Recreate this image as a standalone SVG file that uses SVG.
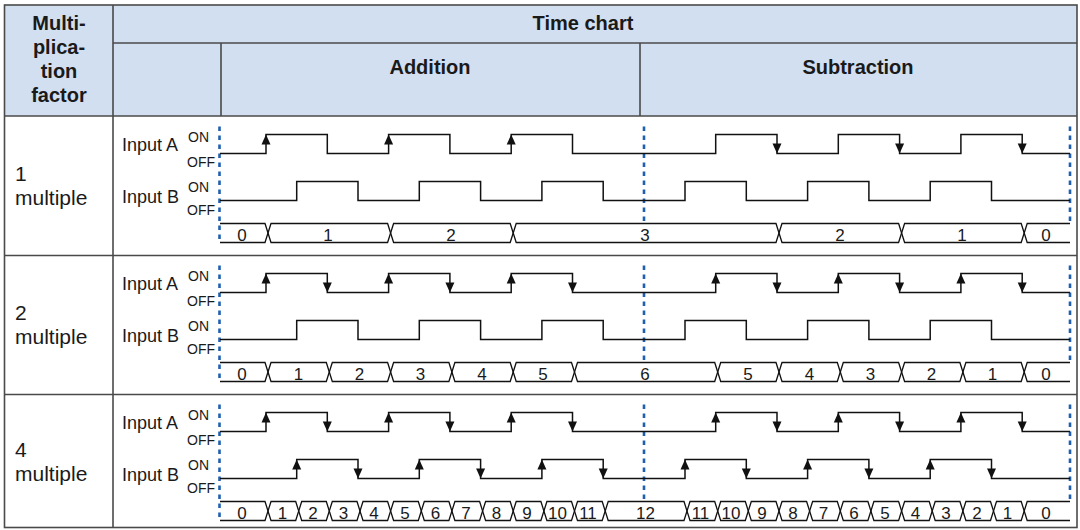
<svg xmlns="http://www.w3.org/2000/svg" xmlns:xlink="http://www.w3.org/1999/xlink" width="1080" height="530" viewBox="0 0 1080 530">
<style>
text{font-family:"Liberation Sans",Arial,sans-serif;fill:#1a1a1a}
.hb{font-weight:bold;font-size:20px;text-anchor:middle}
.lc{font-size:21px}
.inp{font-size:18px}
.oo{font-size:14px}
.cnt{font-size:17px;text-anchor:middle}
.grid{stroke:#4a4a4a;stroke-width:1.6;fill:none}
.wave{stroke:#111;stroke-width:1.5;fill:none}
.bus{stroke:#111;stroke-width:1.3;fill:none}
.dot{stroke:#1f5fae;stroke-width:2.6;stroke-dasharray:4.6 4.4;fill:none}
.arr{fill:#111}
</style>
<defs>
<path id="au" class="arr" d="M0,0 L4.5,10 L-4.5,10 Z"/>
<path id="ad" class="arr" d="M0,0 L4.5,-10 L-4.5,-10 Z"/>
<path id="wA" class="wave" d="M220,153.5 H266 V134.5 H327.3 V153.5 H388.6 V134.5 H449.9 V153.5 H511.2 V134.5 H572.5 V153.5 H715.7 V134.5 H777 V153.5 H838.3 V134.5 H899.6 V153.5 H960.9 V134.5 H1022.2 V153.5 H1070"/>
<path id="wB" class="wave" d="M220,200.5 H296.7 V181.5 H358 V200.5 H419.3 V181.5 H480.6 V200.5 H541.9 V181.5 H603.2 V200.5 H685 V181.5 H746.3 V200.5 H807.6 V181.5 H868.9 V200.5 H930.2 V181.5 H991.5 V200.5 H1070"/>
<g id="lbl">
<text class="inp" x="122" y="151">Input A</text>
<text class="oo" x="188" y="142">ON</text>
<text class="oo" x="187" y="167">OFF</text>
<text class="inp" x="122" y="203">Input B</text>
<text class="oo" x="188" y="192">ON</text>
<text class="oo" x="187" y="215">OFF</text>
</g>
<g id="dots">
<line class="dot" x1="219.5" y1="126.5" x2="219.5" y2="242.5"/>
<line class="dot" x1="644" y1="126.5" x2="644" y2="223.5"/>
<line class="dot" x1="1070" y1="126.5" x2="1070" y2="223.5"/>
</g>
</defs>

<g id="table">
<rect x="4.5" y="5" width="1072.5" height="111" fill="#d2dff1"/>
<rect class="grid" x="4.5" y="5" width="1072.5" height="522.5"/>
<line class="grid" x1="4.5" y1="116" x2="1077" y2="116"/>
<line class="grid" x1="4.5" y1="255.5" x2="1077" y2="255.5"/>
<line class="grid" x1="4.5" y1="394.5" x2="1077" y2="394.5"/>
<line class="grid" x1="113" y1="43" x2="1077" y2="43"/>
<line class="grid" x1="113" y1="5" x2="113" y2="527.5"/>
<line class="grid" x1="221" y1="43" x2="221" y2="116"/>
<line class="grid" x1="640" y1="43" x2="640" y2="116"/>
</g>

<g id="header">
<text class="hb" x="59" y="30">Multi-</text>
<text class="hb" x="59" y="54">plica-</text>
<text class="hb" x="59" y="78">tion</text>
<text class="hb" x="59" y="102">factor</text>
<text class="hb" x="583" y="30">Time chart</text>
<text class="hb" x="430" y="74">Addition</text>
<text class="hb" x="858" y="74">Subtraction</text>
</g>

<g id="factors">
<text class="lc" x="15" y="181">1</text>
<text class="lc" x="15" y="205">multiple</text>
<text class="lc" x="15" y="320">2</text>
<text class="lc" x="15" y="344">multiple</text>
<text class="lc" x="15" y="457">4</text>
<text class="lc" x="15" y="481">multiple</text>
</g>

<g id="row-1">
<use href="#lbl"/>
<use href="#dots"/>
<use href="#wA"/>
<use href="#wB"/>
<use href="#au" x="266" y="134.5"/><use href="#au" x="388.6" y="134.5"/><use href="#au" x="511.2" y="134.5"/>
<use href="#ad" x="777" y="153.5"/><use href="#ad" x="899.6" y="153.5"/><use href="#ad" x="1022.2" y="153.5"/>
<path class="bus" d="M220,223.5 H265 L271,242.5 H387.6 L393.6,223.5 H510.2 L516.2,242.5 H776 L782,223.5 H898.6 L904.6,242.5 H1021.2 L1027.2,223.5 H1070"/>
<path class="bus" d="M220,242.5 H265 L271,223.5 H387.6 L393.6,242.5 H510.2 L516.2,223.5 H776 L782,242.5 H898.6 L904.6,223.5 H1021.2 L1027.2,242.5 H1070"/>
<text class="cnt" x="242" y="240.5">0</text>
<text class="cnt" x="328" y="240.5">1</text>
<text class="cnt" x="451" y="240.5">2</text>
<text class="cnt" x="645" y="240.5">3</text>
<text class="cnt" x="840" y="240.5">2</text>
<text class="cnt" x="962" y="240.5">1</text>
<text class="cnt" x="1046" y="240.5">0</text>
</g>

<g id="row-2" transform="translate(0,139)">
<use href="#lbl"/>
<use href="#dots"/>
<use href="#wA"/>
<use href="#wB"/>
<use href="#au" x="266" y="134.5"/><use href="#ad" x="327.3" y="153.5"/><use href="#au" x="388.6" y="134.5"/><use href="#ad" x="449.9" y="153.5"/><use href="#au" x="511.2" y="134.5"/><use href="#ad" x="572.5" y="153.5"/>
<use href="#au" x="715.7" y="134.5"/><use href="#ad" x="777" y="153.5"/><use href="#au" x="838.3" y="134.5"/><use href="#ad" x="899.6" y="153.5"/><use href="#au" x="960.9" y="134.5"/><use href="#ad" x="1022.2" y="153.5"/>
<path class="bus" d="M220,223.5 H265 L271,242.5 H326.3 L332.3,223.5 H387.6 L393.6,242.5 H448.9 L454.9,223.5 H510.2 L516.2,242.5 H571.5 L577.5,223.5 H714.7 L720.7,242.5 H776 L782,223.5 H837.3 L843.3,242.5 H898.6 L904.6,223.5 H959.9 L965.9,242.5 H1021.2 L1027.2,223.5 H1070"/>
<path class="bus" d="M220,242.5 H265 L271,223.5 H326.3 L332.3,242.5 H387.6 L393.6,223.5 H448.9 L454.9,242.5 H510.2 L516.2,223.5 H571.5 L577.5,242.5 H714.7 L720.7,223.5 H776 L782,242.5 H837.3 L843.3,223.5 H898.6 L904.6,242.5 H959.9 L965.9,223.5 H1021.2 L1027.2,242.5 H1070"/>
<text class="cnt" x="242" y="240.5">0</text>
<text class="cnt" x="298.5" y="240.5">1</text>
<text class="cnt" x="359.5" y="240.5">2</text>
<text class="cnt" x="420.5" y="240.5">3</text>
<text class="cnt" x="482" y="240.5">4</text>
<text class="cnt" x="543" y="240.5">5</text>
<text class="cnt" x="645" y="240.5">6</text>
<text class="cnt" x="748" y="240.5">5</text>
<text class="cnt" x="809.5" y="240.5">4</text>
<text class="cnt" x="870.5" y="240.5">3</text>
<text class="cnt" x="931.5" y="240.5">2</text>
<text class="cnt" x="992.5" y="240.5">1</text>
<text class="cnt" x="1046" y="240.5">0</text>
</g>

<g id="row-3" transform="translate(0,278)">
<use href="#lbl"/>
<use href="#dots"/>
<use href="#wA"/>
<use href="#wB"/>
<use href="#au" x="266" y="134.5"/><use href="#ad" x="327.3" y="153.5"/><use href="#au" x="388.6" y="134.5"/><use href="#ad" x="449.9" y="153.5"/><use href="#au" x="511.2" y="134.5"/><use href="#ad" x="572.5" y="153.5"/>
<use href="#au" x="715.7" y="134.5"/><use href="#ad" x="777" y="153.5"/><use href="#au" x="838.3" y="134.5"/><use href="#ad" x="899.6" y="153.5"/><use href="#au" x="960.9" y="134.5"/><use href="#ad" x="1022.2" y="153.5"/>
<use href="#au" x="296.7" y="181.5"/><use href="#ad" x="358" y="200.5"/><use href="#au" x="419.3" y="181.5"/><use href="#ad" x="480.6" y="200.5"/><use href="#au" x="541.9" y="181.5"/><use href="#ad" x="603.2" y="200.5"/>
<use href="#au" x="685" y="181.5"/><use href="#ad" x="746.3" y="200.5"/><use href="#au" x="807.6" y="181.5"/><use href="#ad" x="868.9" y="200.5"/><use href="#au" x="930.2" y="181.5"/><use href="#ad" x="991.5" y="200.5"/>
<path class="bus" d="M220,223.5 H265 L271,242.5 H295.7 L301.7,223.5 H326.3 L332.3,242.5 H357 L363,223.5 H387.6 L393.6,242.5 H418.3 L424.3,223.5 H448.9 L454.9,242.5 H479.6 L485.6,223.5 H510.2 L516.2,242.5 H540.9 L546.9,223.5 H571.5 L577.5,242.5 H602.2 L608.2,223.5 H684 L690,242.5 H714.7 L720.7,223.5 H745.3 L751.3,242.5 H776 L782,223.5 H806.6 L812.6,242.5 H837.3 L843.3,223.5 H867.9 L873.9,242.5 H898.6 L904.6,223.5 H929.2 L935.2,242.5 H959.9 L965.9,223.5 H990.5 L996.5,242.5 H1021.2 L1027.2,223.5 H1070"/>
<path class="bus" d="M220,242.5 H265 L271,223.5 H295.7 L301.7,242.5 H326.3 L332.3,223.5 H357 L363,242.5 H387.6 L393.6,223.5 H418.3 L424.3,242.5 H448.9 L454.9,223.5 H479.6 L485.6,242.5 H510.2 L516.2,223.5 H540.9 L546.9,242.5 H571.5 L577.5,223.5 H602.2 L608.2,242.5 H684 L690,223.5 H714.7 L720.7,242.5 H745.3 L751.3,223.5 H776 L782,242.5 H806.6 L812.6,223.5 H837.3 L843.3,242.5 H867.9 L873.9,223.5 H898.6 L904.6,242.5 H929.2 L935.2,223.5 H959.9 L965.9,242.5 H990.5 L996.5,223.5 H1021.2 L1027.2,242.5 H1070"/>
<text class="cnt" x="242" y="240.5">0</text>
<text class="cnt" x="282.5" y="240.5">1</text>
<text class="cnt" x="313" y="240.5">2</text>
<text class="cnt" x="343.5" y="240.5">3</text>
<text class="cnt" x="374" y="240.5">4</text>
<text class="cnt" x="405" y="240.5">5</text>
<text class="cnt" x="435.5" y="240.5">6</text>
<text class="cnt" x="466" y="240.5">7</text>
<text class="cnt" x="496.5" y="240.5">8</text>
<text class="cnt" x="527" y="240.5">9</text>
<text class="cnt" x="557.5" y="240.5">10</text>
<text class="cnt" x="588" y="240.5">11</text>
<text class="cnt" x="645.5" y="240.5">12</text>
<text class="cnt" x="700.5" y="240.5">11</text>
<text class="cnt" x="731" y="240.5">10</text>
<text class="cnt" x="762" y="240.5">9</text>
<text class="cnt" x="793" y="240.5">8</text>
<text class="cnt" x="823.5" y="240.5">7</text>
<text class="cnt" x="854" y="240.5">6</text>
<text class="cnt" x="885" y="240.5">5</text>
<text class="cnt" x="915.5" y="240.5">4</text>
<text class="cnt" x="946" y="240.5">3</text>
<text class="cnt" x="977" y="240.5">2</text>
<text class="cnt" x="1007.5" y="240.5">1</text>
<text class="cnt" x="1046" y="240.5">0</text>
</g>
</svg>
